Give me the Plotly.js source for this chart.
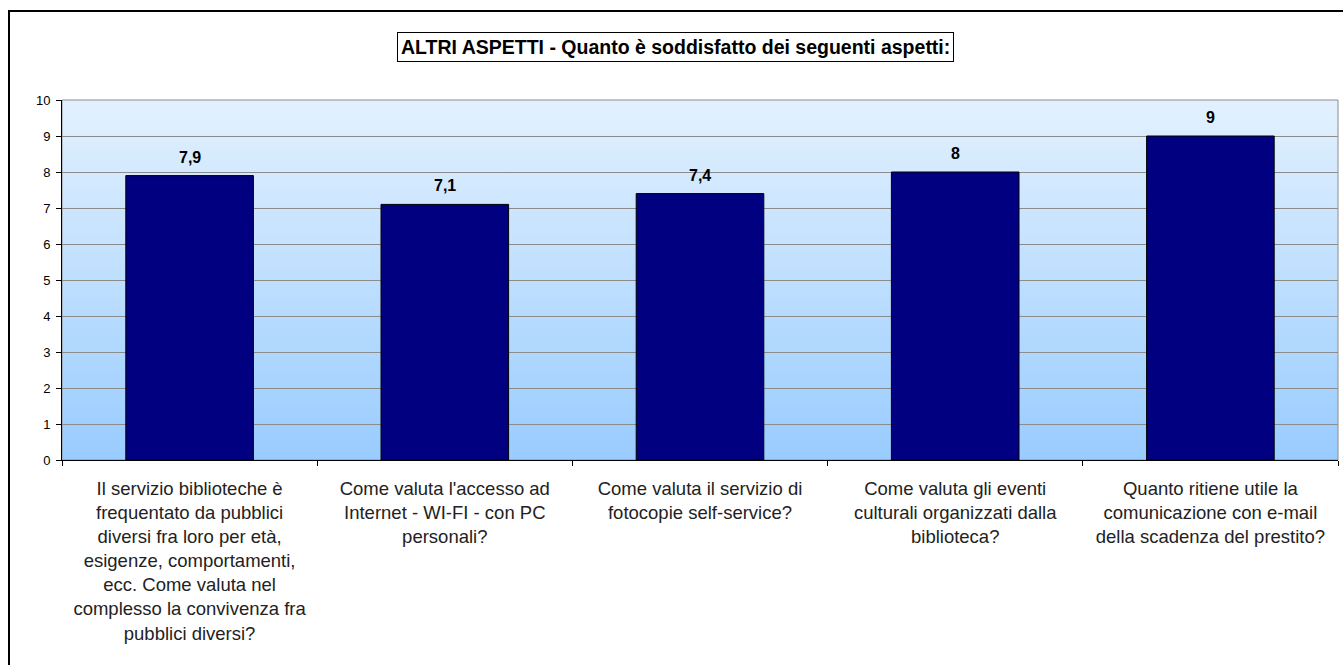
<!DOCTYPE html>
<html>
<head>
<meta charset="utf-8">
<script src="https://cdn.plot.ly/plotly-3.0.1.min.js"></script>
<style>
  body { margin: 0; background: #fff; }
  #myDiv { width: 1343px; height: 665px; position: relative; overflow: hidden; }
  #frame { position: absolute; left: 8px; top: 10px; width: 1400px; height: 700px;
           border: 2px solid #000; pointer-events: none; }
</style>
</head>
<body>
<div id="myDiv"><div id="frame"></div></div>
<script>
var domande = [
  'Il servizio biblioteche è<br>frequentato da pubblici<br>diversi fra loro per età,<br>esigenze, comportamenti,<br>ecc. Come valuta nel<br>complesso la convivenza fra<br>pubblici diversi?',
  'Come valuta l\'accesso ad<br>Internet - WI-FI - con PC<br>personali?',
  'Come valuta il servizio di<br>fotocopie self-service?',
  'Come valuta gli eventi<br>culturali organizzati dalla<br>biblioteca?',
  'Quanto ritiene utile la<br>comunicazione con e-mail<br>della scadenza del prestito?'
];
var voti = [7.9, 7.1, 7.4, 8, 9];
var yTicks = [0, 1, 2, 3, 4, 5, 6, 7, 8, 9, 10];

// sfondo sfumato dell'area del grafico
var sfondo = 'data:image/svg+xml;utf8,' + encodeURIComponent(
  '<svg xmlns="http://www.w3.org/2000/svg" width="10" height="100" preserveAspectRatio="none">' +
  '<defs><linearGradient id="g" x1="0" y1="0" x2="0" y2="1">' +
  '<stop offset="0" stop-color="#e3f1fe"/><stop offset="1" stop-color="#99ccff"/>' +
  '</linearGradient></defs><rect width="10" height="100" fill="url(#g)"/></svg>');

var barre = {
  x: domande,
  y: voti,
  type: 'bar',
  width: 0.5,
  marker: { color: '#000080', line: { color: '#000000', width: 1 } },
  hoverinfo: 'skip'
};

var etichette = voti.map(function (v, i) {
  return {
    x: domande[i], y: v, xref: 'x', yref: 'y',
    text: '<b>' + String(v).replace('.', ',') + '</b>',
    showarrow: false, yanchor: 'bottom', yshift: 8,
    font: { family: 'Arial, Liberation Sans, sans-serif', size: 16, color: '#000' }
  };
});

etichette.push({
  text: '<b>ALTRI ASPETTI - Quanto è soddisfatto dei seguenti aspetti:</b>',
  xref: 'paper', yref: 'paper', x: 0.481, y: 1.147,
  xanchor: 'center', yanchor: 'middle',
  showarrow: false, bordercolor: '#000', borderwidth: 1, borderpad: 3,
  bgcolor: '#fff',
  font: { family: 'Arial, Liberation Sans, sans-serif', size: 19.5, color: '#000' }
});

var layout = {
  width: 1343,
  height: 665,
  margin: { l: 62, r: 5, t: 100, b: 205 },
  paper_bgcolor: 'rgba(0,0,0,0)',
  plot_bgcolor: 'rgba(0,0,0,0)',
  showlegend: false,
  bargap: 0.5,
  font: { family: 'Arial, Liberation Sans, sans-serif', color: '#000' },
  xaxis: {
    type: 'category',
    tickson: 'boundaries',
    ticks: 'outside', ticklen: 5, tickcolor: '#000',
    showline: true, linecolor: '#000', linewidth: 1,
    showgrid: false,
    tickangle: 0,
    ticklabelstandoff: 12,
    tickfont: { size: 18.5, color: '#222' }
  },
  yaxis: {
    range: [0, 10],
    tickvals: yTicks,
    ticks: 'outside', ticklen: 5, tickcolor: '#000',
    showline: true, linecolor: '#000', linewidth: 1,
    gridcolor: '#8c8c8c', gridwidth: 1,
    zeroline: false,
    ticklabelstandoff: 3,
    tickfont: { size: 13, color: '#000' }
  },
  images: [{
    source: sfondo, xref: 'paper', yref: 'paper',
    x: 0, y: 1, sizex: 1, sizey: 1, sizing: 'stretch', layer: 'below'
  }],
  shapes: [{
    type: 'rect', xref: 'paper', yref: 'paper', x0: 0, x1: 1, y0: 0, y1: 1,
    line: { color: '#8c8c8c', width: 1 }, layer: 'below'
  }],
  annotations: etichette
};

Plotly.newPlot('myDiv', [barre], layout, { displayModeBar: false, staticPlot: true });
</script>
</body>
</html>
